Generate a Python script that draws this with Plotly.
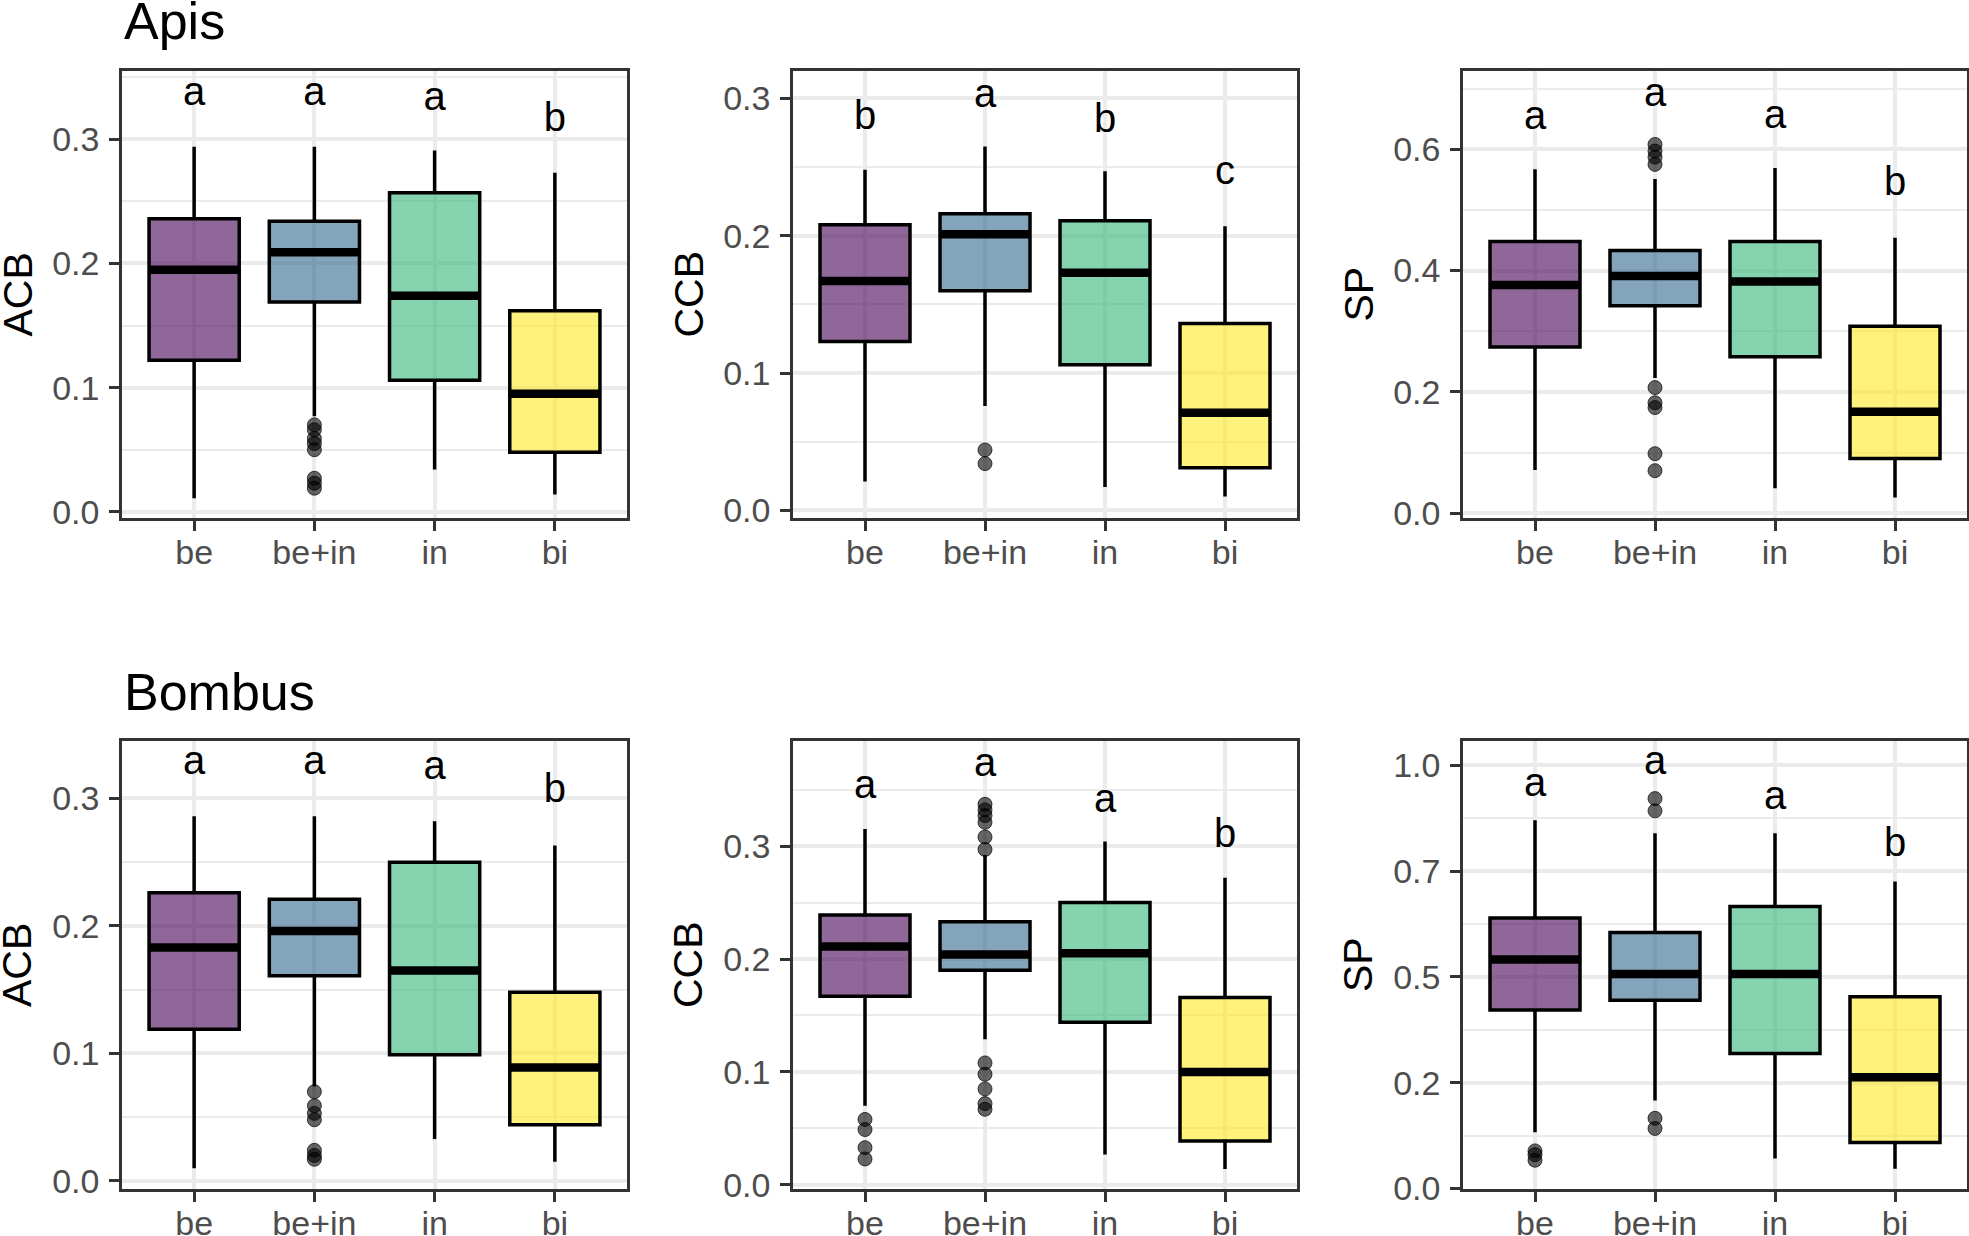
import plotly.graph_objects as go
from plotly.subplots import make_subplots

# Groups on the x axis
groups = ["be", "be+in", "in", "bi"]

# Box stats per group: lower whisker, Q1, median, Q3, upper whisker
apis_acb_stats = [[0.011, 0.122, 0.195, 0.236, 0.294],
                  [0.077, 0.169, 0.209, 0.234, 0.294],
                  [0.034, 0.106, 0.174, 0.257, 0.291],
                  [0.014, 0.048, 0.095, 0.162, 0.273]]
apis_acb_outliers = [[], [0.070, 0.066, 0.059, 0.055, 0.050, 0.027, 0.023, 0.019], [], []]
apis_acb_letters = ["a", "a", "a", "b"]
apis_acb_letter_y = [0.336, 0.336, 0.332, 0.315]

apis_ccb_stats = [[0.021, 0.123, 0.167, 0.208, 0.248],
                  [0.076, 0.160, 0.201, 0.216, 0.265],
                  [0.017, 0.106, 0.173, 0.211, 0.247],
                  [0.010, 0.031, 0.071, 0.136, 0.207]]
apis_ccb_outliers = [[], [0.044, 0.034], [], []]
apis_ccb_letters = ["b", "a", "b", "c"]
apis_ccb_letter_y = [0.285, 0.301, 0.283, 0.245]

apis_sp_stats = [[0.071, 0.274, 0.376, 0.448, 0.567],
                 [0.223, 0.342, 0.391, 0.433, 0.551],
                 [0.041, 0.258, 0.382, 0.448, 0.569],
                 [0.026, 0.090, 0.167, 0.308, 0.454]]
apis_sp_outliers = [[], [0.608, 0.597, 0.587, 0.575, 0.207, 0.182, 0.174, 0.098, 0.070], [], []]
apis_sp_letters = ["a", "a", "a", "b"]
apis_sp_letter_y = [0.650, 0.687, 0.652, 0.541]

bombus_acb_stats = [[0.010, 0.119, 0.183, 0.226, 0.286],
                    [0.074, 0.161, 0.196, 0.221, 0.286],
                    [0.033, 0.099, 0.165, 0.250, 0.282],
                    [0.015, 0.044, 0.089, 0.148, 0.263]]
bombus_acb_outliers = [[], [0.070, 0.059, 0.053, 0.048, 0.024, 0.020, 0.017], [], []]
bombus_acb_letters = ["a", "a", "a", "b"]
bombus_acb_letter_y = [0.327, 0.327, 0.323, 0.305]

bombus_ccb_stats = [[0.070, 0.167, 0.211, 0.239, 0.315],
                    [0.129, 0.190, 0.204, 0.233, 0.292],
                    [0.027, 0.144, 0.205, 0.250, 0.304],
                    [0.014, 0.039, 0.100, 0.166, 0.272]]
bombus_ccb_outliers = [[0.058, 0.049, 0.033, 0.023],
                       [0.337, 0.332, 0.327, 0.321, 0.308, 0.297, 0.108, 0.098, 0.085, 0.072, 0.067],
                       [], []]
bombus_ccb_letters = ["a", "a", "a", "b"]
bombus_ccb_letter_y = [0.351, 0.371, 0.339, 0.308]

bombus_sp_stats = [[0.133, 0.422, 0.541, 0.639, 0.870],
                   [0.208, 0.445, 0.507, 0.605, 0.839],
                   [0.071, 0.319, 0.507, 0.666, 0.839],
                   [0.047, 0.109, 0.263, 0.453, 0.725]]
bombus_sp_outliers = [[0.089, 0.080, 0.067], [0.921, 0.892, 0.166, 0.142], [], []]
bombus_sp_letters = ["a", "a", "a", "b"]
bombus_sp_letter_y = [0.950, 1.003, 0.921, 0.808]

# Y tick values / labels
ticks_01 = [0.0, 0.1, 0.2, 0.3]
labels_01 = ["0.0", "0.1", "0.2", "0.3"]
ticks_sp_apis = [0.0, 0.2, 0.4, 0.6]
labels_sp_apis = ["0.0", "0.2", "0.4", "0.6"]
ticks_sp_bombus = [0.0, 0.25, 0.5, 0.75, 1.0]
labels_sp_bombus = ["0.0", "0.2", "0.5", "0.7", "1.0"]

FONT = "Liberation Sans, Arial, sans-serif"
fills = ["rgba(68,1,84,0.6)", "rgba(49,104,142,0.6)",
         "rgba(53,183,121,0.6)", "rgba(253,231,37,0.6)"]
BOX_W = 0.75
W, H = 1969, 1236

panels = [
    # stats, outliers, letters, letter_y, row, col, y title, ticks, labels, y range
    (apis_acb_stats, apis_acb_outliers, apis_acb_letters, apis_acb_letter_y, 1, 1, "ACB",
     ticks_01, labels_01, [-0.005, 0.355]),
    (apis_ccb_stats, apis_ccb_outliers, apis_ccb_letters, apis_ccb_letter_y, 1, 2, "CCB",
     ticks_01, labels_01, [-0.0056, 0.320]),
    (apis_sp_stats, apis_sp_outliers, apis_sp_letters, apis_sp_letter_y, 1, 3, "SP",
     ticks_sp_apis, labels_sp_apis, [-0.008, 0.729]),
    (bombus_acb_stats, bombus_acb_outliers, bombus_acb_letters, bombus_acb_letter_y, 2, 1, "ACB",
     ticks_01, labels_01, [-0.0063, 0.345]),
    (bombus_ccb_stats, bombus_ccb_outliers, bombus_ccb_letters, bombus_ccb_letter_y, 2, 2, "CCB",
     ticks_01, labels_01, [-0.0036, 0.393]),
    (bombus_sp_stats, bombus_sp_outliers, bombus_sp_letters, bombus_sp_letter_y, 2, 3, "SP",
     ticks_sp_bombus, labels_sp_bombus, [-0.001, 1.057]),
]

# panel edges in page pixels
col_px = [(122, 627), (793, 1297), (1463, 1967)]
row_px = [(71, 518), (741, 1189)]
col_domains = [[a / W, b / W] for a, b in col_px]
row_domains = [[1 - b / H, 1 - a / H] for a, b in row_px]

fig = make_subplots(rows=2, cols=3)

for stats, outliers, letters, letter_y, r, c, ytitle, tv, tt, yr in panels:
    for i, g in enumerate(groups):
        pos = i + 1
        lo, q1, med, q3, hi = stats[i]
        fig.add_trace(go.Box(
            x=[pos], lowerfence=[lo], q1=[q1], median=[med], q3=[q3], upperfence=[hi],
            width=BOX_W, whiskerwidth=0, boxpoints=False,
            fillcolor=fills[i], line=dict(color="black", width=3.5),
            name=g, showlegend=False, hoverinfo="skip"
        ), row=r, col=c)
        # thicker median bar like ggplot
        fig.add_trace(go.Scatter(
            x=[pos - BOX_W / 2, pos + BOX_W / 2], y=[med, med], mode="lines",
            line=dict(color="black", width=8.5), showlegend=False, hoverinfo="skip"
        ), row=r, col=c)
        if outliers[i]:
            fig.add_trace(go.Scatter(
                x=[pos] * len(outliers[i]), y=outliers[i], mode="markers",
                marker=dict(size=14, color="rgba(0,0,0,0.6)",
                            line=dict(color="rgba(0,0,0,0.7)", width=1)),
                showlegend=False, hoverinfo="skip"
            ), row=r, col=c)
    # significance letters
    fig.add_trace(go.Scatter(
        x=list(range(1, len(groups) + 1)), y=letter_y, text=letters, mode="text",
        textfont=dict(size=40, color="black", family=FONT),
        showlegend=False, hoverinfo="skip"
    ), row=r, col=c)

    step = tv[1] - tv[0]
    minor_vals = [t + step / 2 for t in tv]
    fig.update_xaxes(
        domain=col_domains[c - 1], range=[0.4, 4.6],
        tickmode="array", tickvals=[1, 2, 3, 4], ticktext=groups,
        row=r, col=c)
    fig.update_yaxes(
        domain=row_domains[r - 1], range=yr,
        tickmode="array", tickvals=tv, ticktext=tt,
        minor=dict(tickmode="array", tickvals=minor_vals, showgrid=True,
                   gridcolor="#EBEBEB", gridwidth=2, ticks=""),
        row=r, col=c)

    # y axis title as rotated annotation
    yd = row_domains[r - 1]
    fig.add_annotation(
        text=ytitle, xref="paper", yref="paper",
        x=(col_px[c - 1][0] - 105) / W, y=(yd[0] + yd[1]) / 2,
        xanchor="center", yanchor="middle", textangle=-90, showarrow=False,
        font=dict(size=41, color="black", family=FONT))

axis_style = dict(
    automargin=False,
    showgrid=True, gridcolor="#EBEBEB", gridwidth=3.5, zeroline=False,
    showline=True, mirror=True, linecolor="#333333", linewidth=2.5,
    ticks="outside", ticklen=10, tickwidth=2.5, tickcolor="#333333",
    tickfont=dict(size=34, color="#4D4D4D", family=FONT))
fig.update_xaxes(ticklabelstandoff=-8, **axis_style)
fig.update_yaxes(ticklabelstandoff=3, **axis_style)

# Row titles
for label, ycen in [("Apis", 21), ("Bombus", 692)]:
    fig.add_annotation(
        text=label, xref="paper", yref="paper", x=122 / W, y=1 - ycen / H,
        xanchor="left", yanchor="middle", showarrow=False,
        font=dict(size=52, color="black", family=FONT))

fig.update_layout(
    width=W, height=H,
    margin=dict(l=0, r=0, t=0, b=0, autoexpand=False),
    paper_bgcolor="white", plot_bgcolor="white",
    boxmode="overlay", showlegend=False,
    font=dict(family=FONT),
)

# no page margin, and clip anything that spills past the figure box
post = ("document.body.style.margin='0';"
        "var gd=document.getElementsByClassName('plotly-graph-div')[0];"
        "gd.style.overflow='hidden';"
        "var sc=gd.getElementsByClassName('svg-container')[0];"
        "if(sc){sc.style.overflow='hidden';}")
fig.write_html("out.html", config={"displayModeBar": False}, post_script=post)
